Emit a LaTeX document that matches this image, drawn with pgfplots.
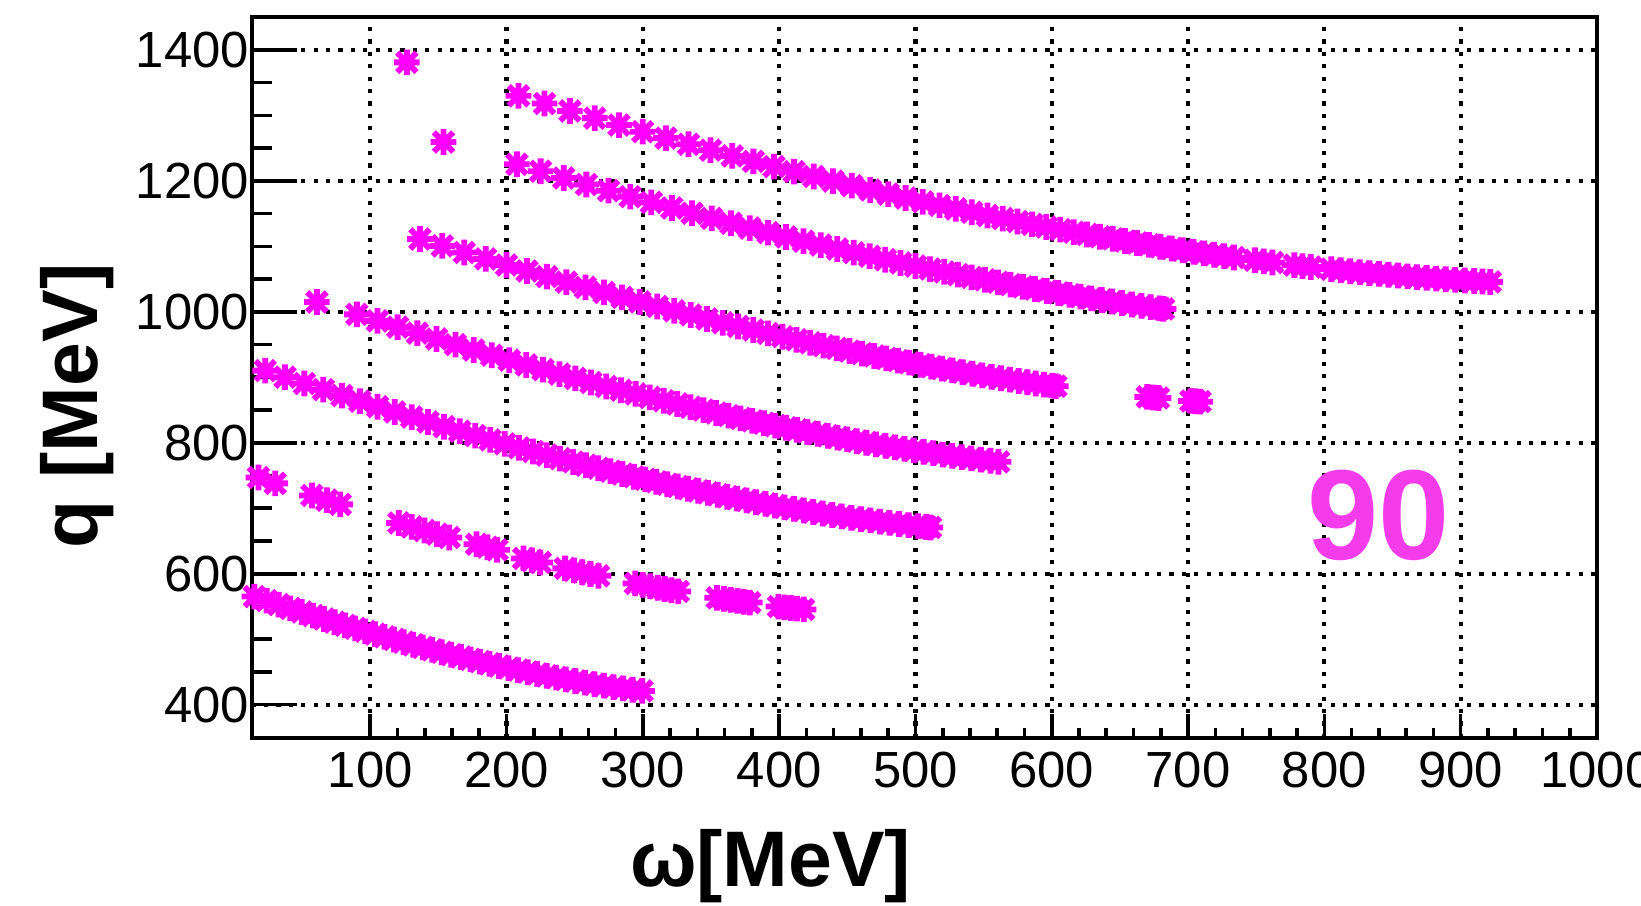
\documentclass[border=0pt]{standalone}
\usepackage{fontspec}
\setmainfont{Liberation Sans}
\usepackage{pgfplots}
\pgfplotsset{compat=1.18}
\definecolor{rootmag}{RGB}{255,0,255}
\definecolor{labmag}{RGB}{245,60,235}
\pgfdeclareplotmark{rootstar}{%
  \pgfpathmoveto{\pgfpoint{-\pgfplotmarksize}{0pt}}%
  \pgfpathlineto{\pgfpoint{\pgfplotmarksize}{0pt}}%
  \pgfpathmoveto{\pgfpoint{0pt}{-\pgfplotmarksize}}%
  \pgfpathlineto{\pgfpoint{0pt}{\pgfplotmarksize}}%
  \pgfpathmoveto{\pgfpoint{-0.76\pgfplotmarksize}{-0.76\pgfplotmarksize}}%
  \pgfpathlineto{\pgfpoint{0.76\pgfplotmarksize}{0.76\pgfplotmarksize}}%
  \pgfpathmoveto{\pgfpoint{-0.76\pgfplotmarksize}{0.76\pgfplotmarksize}}%
  \pgfpathlineto{\pgfpoint{0.76\pgfplotmarksize}{-0.76\pgfplotmarksize}}%
  \pgfusepathqstroke}
\pgfplotsset{rootpts/.style={only marks, mark=rootstar, draw=rootmag, fill=rootmag, color=rootmag, mark size=3.2pt, mark options={line width=1.45pt, solid}}}
\begin{document}
\begin{tikzpicture}
\begin{axis}[
  at={(0,0)}, anchor=south west,
  scale only axis, width=336.3pt, height=180.2pt,
  xmin=13, xmax=1000, ymin=349, ymax=1450,
  xtick={100,200,300,400,500,600,700,800,900,1000},
  ytick={400,600,800,1000,1200,1400},
  minor x tick num=4, minor y tick num=3,
  xtick pos=bottom, ytick pos=left,
  tick align=inside,
  axis line style={black, line width=1pt},
  every tick/.append style={black, line width=0.9pt},
  xtick style={/pgfplots/major tick length=6pt,/pgfplots/minor tick length=2.5pt},
  ytick style={/pgfplots/major tick length=11.25pt,/pgfplots/minor tick length=5pt},
  grid=major,
  major grid style={black, line width=1.05pt, dash pattern=on 1.05pt off 2.05pt},
  ticklabel style={font=\fontsize{12.7}{13}\selectfont, inner sep=0pt},
  xticklabel style={yshift=-3.2pt},
  yticklabel style={xshift=-0.5pt},
  /pgf/number format/assume math mode=true,
  /pgf/number format/1000 sep={},
  xlabel={ω[MeV]}, ylabel={q [MeV]},
  label style={font=\bfseries\fontsize{19.7}{20}\selectfont, inner sep=0pt},
  xlabel style={at={(axis description cs:0.3858,-0.1776)}, anchor=center},
  ylabel style={at={(axis description cs:-0.130,0.4607)}, anchor=center},
]
% series 1
\addplot[rootpts] coordinates {(15,565.1)(24,558.9)(32.8,552.9)(41.4,547.1)(49.8,541.5)(58,536.1)(66.1,530.9)(73.9,525.9)(81.6,521.1)(89,516.5)(96.4,512.0)(103.5,507.7)(110.5,503.6)(117.5,499.5)(124.5,495.4)(131.5,491.5)(138.5,487.6)(145.5,483.8)(152.5,480.0)(159.5,476.3)(166.5,472.8)(173.5,469.2)(180.5,465.8)(187.5,462.4)(194.5,459.1)(201.5,455.9)(208.5,452.8)(215.5,449.8)(222.5,446.9)(229.5,444.0)(236.5,441.3)(243.5,438.6)(250.5,436.1)(257.5,433.6)(264.5,431.2)(271.5,429.0)(278.5,426.8)(285.5,424.8)(292.5,422.8)(299.5,421.0)};
% series 2
\addplot[rootpts] coordinates {(18,747)(30.3,738)(57.2,719.5)(68.2,712.3)(78,705.9)(121,677.5)(130.5,671.5)(139.8,666)(149,660.5)(158,655.3)(178,645)(186,640.5)(193,636.5)(212.5,623.4)(218.6,620.3)(224.8,617.2)(243,608.2)(249.5,605.1)(255.5,602.3)(261.5,599.5)(267.5,596.8)(294.5,585.2)(300,583)(305.5,580.8)(311,578.6)(316,576.7)(321,574.8)(326,573)(354.5,563.2)(359.5,561.6)(364.5,560)(369.5,558.5)(374,557.2)(378.5,555.9)(399.5,549.8)(404,548.7)(408.5,547.7)(413,546.6)(418,545.5)};
% series 3
\addplot[rootpts] coordinates {(23,910.2)(37.5,900.2)(51.7,890.5)(65.6,881.2)(79.2,872.1)(92.4,863.5)(105.4,855.0)(118,847.0)(130.4,839.2)(142.4,831.7)(154.2,824.5)(165.7,817.6)(177,810.9)(188,804.4)(198.7,798.3)(209.2,792.3)(219.5,786.6)(229.5,781.1)(239.3,775.8)(248.9,770.7)(258.2,765.8)(267.3,761.1)(276.3,756.6)(285,752.3)(293.5,748.1)(301.8,744.2)(309.9,740.4)(317.9,736.7)(325.6,733.2)(333.2,729.8)(340.6,726.6)(347.8,723.5)(354.9,720.5)(362,717.6)(369,714.7)(376,712.0)(383,709.2)(390,706.6)(397,704.0)(404,701.4)(411,699.0)(418,696.6)(425,694.2)(432,691.9)(439,689.7)(446,687.5)(453,685.4)(460,683.4)(467,681.5)(474,679.6)(481,677.7)(488,676.0)(495,674.3)(502,672.6)(508,671.3)(511,670.6)};
% series 4
\addplot[rootpts] coordinates {(60.9,1015)(90.2,996.1)(105.3,986.2)(120.1,976.6)(134.6,967.4)(148.7,958.5)(162.5,949.9)(175.9,941.7)(189.1,933.7)(202,926.1)(214.5,918.8)(226.8,911.7)(238.8,904.9)(250.5,898.3)(261.9,892.1)(273.1,886.0)(284,880.2)(294.7,874.6)(305.1,869.3)(315.3,864.1)(325.3,859.2)(335,854.4)(344.5,849.9)(353.8,845.5)(362.8,841.4)(371.7,837.3)(380.3,833.5)(388.8,829.8)(397.1,826.2)(405.1,822.9)(413,819.6)(420.7,816.5)(428.3,813.5)(435.6,810.6)(442.8,807.9)(450,805.2)(457,802.6)(464,800.1)(471,797.6)(478,795.2)(485,792.9)(492,790.6)(499,788.4)(506,786.2)(513,784.1)(520,782.0)(527,780.0)(534,778.0)(541,776.1)(548,774.3)(555,772.5)(561,771.0)};
% series 5
\addplot[rootpts] coordinates {(136.5,1111.2)(152.9,1100.7)(169,1090.6)(184.7,1080.8)(200,1071.5)(215,1062.4)(229.6,1053.7)(243.9,1045.4)(257.9,1037.3)(271.5,1029.6)(284.8,1022.1)(297.8,1015.0)(310.6,1008.1)(323,1001.5)(335.1,995.2)(347,989.1)(358.6,983.2)(369.9,977.6)(381,972.2)(391.8,967.0)(402.4,962.0)(412.7,957.2)(422.8,952.7)(432.6,948.3)(442.2,944.1)(451.6,940.1)(460.8,936.2)(469.8,932.5)(478.6,928.9)(487.1,925.5)(495.5,922.3)(503.7,919.2)(511.7,916.2)(519.5,913.3)(527.1,910.6)(534.6,907.9)(541.8,905.4)(549,903.0)(555.9,900.7)(562.7,898.5)(569.3,896.4)(575.8,894.4)(582.1,892.5)(588.3,890.6)(594.4,888.9)(600.3,887.2)(603,886.4)(670,870.0)(674.2,869.2)(678.3,868.4)(702,863.9)(705.4,863.4)(708.8,862.8)};
% series 6
\addplot[rootpts] coordinates {(153.8,1259.3)(207.6,1225.3)(225,1214.7)(242,1204.4)(258.6,1194.5)(274.8,1185.0)(290.7,1175.9)(306.2,1167.1)(321.3,1158.6)(336.1,1150.5)(350.5,1142.7)(364.6,1135.2)(378.4,1127.9)(391.9,1121.0)(405.1,1114.3)(417.9,1107.9)(430.5,1101.8)(442.7,1095.9)(454.7,1090.3)(466.4,1084.9)(477.9,1079.6)(489.1,1074.6)(500,1069.9)(510.7,1065.3)(521.1,1060.9)(531.3,1056.7)(541.2,1052.6)(551,1048.8)(560.5,1045.0)(569.7,1041.5)(578.8,1038.1)(587.7,1034.9)(596.3,1031.8)(604.8,1028.8)(613,1025.9)(621.1,1023.2)(629,1020.6)(636.7,1018.1)(644.2,1015.7)(651.6,1013.4)(658.8,1011.2)(665.8,1009.1)(672.6,1007.1)(679.3,1005.2)(682,1004.4)};
% series 7
\addplot[rootpts] coordinates {(126.9,1381)(208.8,1329.9)(227.9,1318.1)(246.5,1306.7)(264.7,1295.8)(282.5,1285.2)(299.9,1275.1)(316.9,1265.3)(333.5,1255.9)(349.7,1246.9)(365.6,1238.1)(381.1,1229.8)(396.2,1221.8)(411,1214.1)(425.4,1206.7)(439.5,1199.6)(453.3,1192.7)(466.8,1186.1)(480,1179.8)(492.8,1173.8)(505.4,1168.0)(517.6,1162.5)(529.6,1157.2)(541.3,1152.1)(552.8,1147.1)(564,1142.4)(574.9,1137.9)(585.6,1133.6)(596,1129.5)(606.2,1125.5)(616.2,1121.7)(625.9,1118.1)(635.4,1114.6)(644.7,1111.3)(653.8,1108.1)(662.6,1105.1)(671.3,1102.2)(679.7,1099.4)(688,1096.7)(696.1,1094.1)(704,1091.7)(711.7,1089.3)(719.2,1087.1)(726.6,1085.0)(733.7,1082.9)(749,1078.7)(755.5,1077.0)(762,1075.3)(778,1071.3)(784,1069.8)(790,1068.4)(805,1065.0)(812,1063.5)(819,1062.0)(826,1060.6)(833,1059.2)(840,1057.9)(847,1056.6)(854,1055.4)(861,1054.1)(868,1053.0)(875,1051.9)(882,1050.8)(889,1049.8)(896,1048.8)(903,1047.9)(910,1047.0)(916,1046.3)(921.7,1045.6)};
\node[font=\bfseries\fontsize{32}{32}\selectfont, text=labmag, inner sep=0pt, anchor=center] at (axis cs:840,689) {90};
\end{axis}
\pgfresetboundingbox
\path[use as bounding box] (-62.9pt,-41.75pt) rectangle (347.3pt,184.5pt);
\end{tikzpicture}
\end{document}
